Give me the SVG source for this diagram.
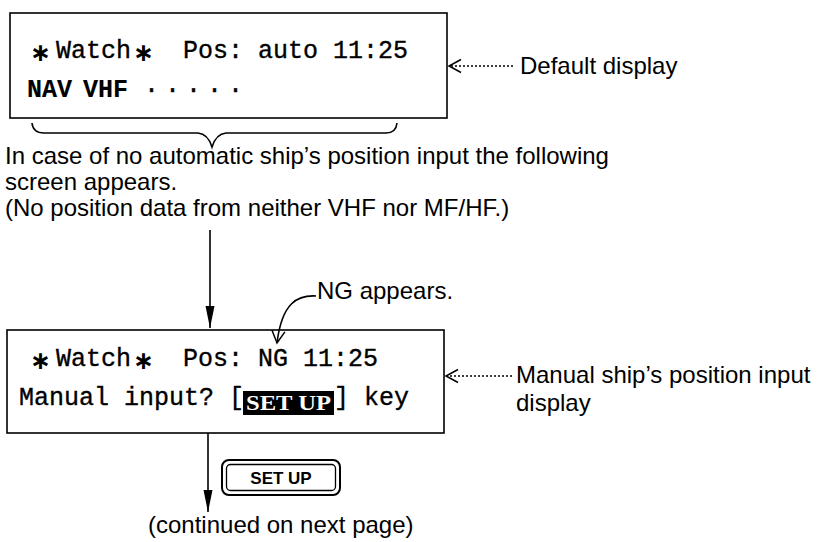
<svg xmlns="http://www.w3.org/2000/svg" width="823" height="542" viewBox="0 0 823 542">
<defs>
<style>
.mono{font-family:"Courier New","Nimbus Mono PS","FreeMono","Liberation Mono",monospace;font-size:25px;fill:#000;stroke:#000;stroke-width:0.35}
.bold{font-weight:bold;stroke-width:0.1}
.ast{font-family:"DejaVu Sans",sans-serif;font-size:25px;font-weight:bold;fill:#000}
.sans{font-family:"Liberation Sans",Arial,sans-serif;font-size:24px;fill:#000}
.box{fill:none;stroke:#000;stroke-width:1.6}
.line{fill:none;stroke:#000;stroke-width:1.6}
.dot{fill:none;stroke:#000;stroke-width:1.5;stroke-dasharray:2 2}
</style>
<marker id="fillhead" markerUnits="userSpaceOnUse" viewBox="0 -6 24 12" markerWidth="24" markerHeight="12" refX="22" refY="0" orient="auto">
<path d="M0,-4.5 L22,0 L0,4.5 Z" fill="#000"/>
</marker>
<marker id="openhead" markerUnits="userSpaceOnUse" viewBox="-13 -8 15 16" markerWidth="15" markerHeight="16" refX="0" refY="0" orient="auto">
<path d="M-12,-6.5 L0,0 L-12,6.5" fill="none" stroke="#000" stroke-width="1.5" stroke-dasharray="none"/>
</marker>
</defs>
<rect width="823" height="542" fill="#fff"/>

<g id="default-screen">
<rect class="box" x="10" y="13" width="437" height="105"/>
<text class="ast" x="30" y="61">∗</text>
<text class="mono" x="56" y="58">Watch</text>
<text class="ast" x="133" y="61">∗</text>
<text class="mono" x="183" y="58">Pos: auto 11:25</text>
<text class="mono bold" x="27" y="97">NAV</text>
<text class="mono bold" x="83" y="97">VHF</text>
<text class="mono" x="144" y="97" letter-spacing="6">·····</text>
</g>

<g id="default-label">
<text class="sans" x="520" y="74">Default display</text>
</g>

<g id="brace">
<path class="line" stroke-width="2" d="M32,123 Q33,133 44,133 L198,133 Q208,134 212,147 Q216,134 226,133 L386,133 Q396,133 397,123"/>
</g>

<g id="condition-text">
<text class="sans" x="5" y="164">In case of no automatic ship’s position input the following</text>
<text class="sans" x="5" y="190">screen appears.</text>
<text class="sans" x="5" y="216">(No position data from neither VHF nor MF/HF.)</text>
</g>

<g id="ng-note">
<text class="sans" x="317" y="299">NG appears.</text>
</g>

<g id="manual-screen">
<rect class="box" x="7" y="330" width="437" height="103"/>
<text class="ast" x="30" y="369">∗</text>
<text class="mono" x="56" y="366">Watch</text>
<text class="ast" x="133" y="369">∗</text>
<text class="mono" x="183" y="366">Pos: NG 11:25</text>
<text class="mono" x="19" y="405">Manual input? [</text>
<rect x="243" y="391" width="91" height="24" fill="#000"/>
<text x="246" y="410" font-family="'Liberation Serif','Times New Roman',serif" font-weight="bold" font-size="22" fill="#fff" textLength="85" lengthAdjust="spacingAndGlyphs">SET UP</text>
<text class="mono" x="334" y="405">] key</text>
</g>

<g id="manual-label">
<text class="sans" x="516" y="383" font-size="24.5">Manual ship’s position input</text>
<text class="sans" x="516" y="411" font-size="24.5">display</text>
</g>

<g id="setup-key">
<rect x="222" y="460" width="118" height="35" rx="7" fill="none" stroke="#000" stroke-width="2"/>
<rect x="226.5" y="464.5" width="109" height="26" rx="4" fill="none" stroke="#000" stroke-width="1.3"/>
<text x="281" y="484" text-anchor="middle" font-family="'Liberation Sans',Arial,sans-serif" font-weight="bold" font-size="17" fill="#000">SET UP</text>
</g>

<g id="continued">
<text class="sans" x="148" y="533" font-size="20.5">(continued on next page)</text>
</g>

<g id="connectors">
<path class="dot" d="M513,66 L449,66" marker-end="url(#openhead)"/>
<path class="dot" d="M512,376 L446,376" marker-end="url(#openhead)"/>
<path class="line" d="M210,230 L210,328" marker-end="url(#fillhead)"/>
<path class="line" d="M316,296 C298,295 282,302 277,343" marker-end="url(#openhead)"/>
<path class="line" d="M208,433 L208,512" marker-end="url(#fillhead)"/>
</g>
</svg>
